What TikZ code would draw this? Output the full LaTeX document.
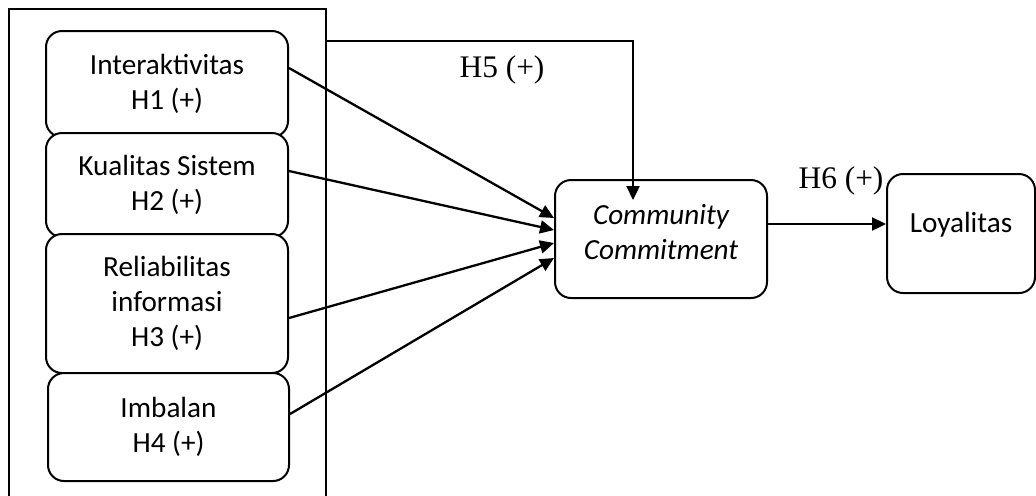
\documentclass[tikz,border=0pt]{standalone}
\usepackage{fontspec}
\setmainfont{Carlito}
\newfontfamily\tnr{Liberation Serif}
\usetikzlibrary{arrows.meta,calc}
\begin{document}
\begin{tikzpicture}[x=0.5pt,y=-0.5pt,
  box/.style={draw, line width=1pt, rounded corners=8pt, fill=white, inner sep=0pt, align=center, font=\fontsize{14.6}{17.5}\selectfont},
  txt/.style={inner sep=0pt, align=center, font=\fontsize{14.6}{17.5}\selectfont},
  conn/.style={line width=1.15pt, -{Triangle[length=7pt,width=6.5pt]}},
  hyp/.style={font=\tnr\fontsize{15.7}{18}\selectfont, inner sep=0pt}]
\useasboundingbox (0,0) rectangle (1036,495);
\clip (0,0) rectangle (1036,495);
\node[draw, line width=0.85pt, minimum width=158.5pt, minimum height=250.5pt, inner sep=0pt] (frame) at (167.5,259.5) {};
\node[box, minimum width=121pt, minimum height=53pt] (b1) at (167,84) {Interaktivitas\\H1 (+)};
\node[box, minimum width=121pt, minimum height=52pt] (b2) at (167,185) {Kualitas Sistem\\H2 (+)};
\node[box, minimum width=121pt, minimum height=69.5pt] (b3) at (167,303.5) {Reliabilitas\\informasi\\H3 (+)};
\node[box, minimum width=120.5pt, minimum height=54pt] (b4) at (168.5,427) {Imbalan\\H4 (+)};
\node[box, minimum width=106pt, minimum height=59pt] (cc) at (661,239) {};
\node[txt, font=\fontsize{14.6}{17.5}\selectfont\itshape] (cctext) at (661,232) {Community\\Commitment};
\node[box, minimum width=74pt, minimum height=59.5pt] (loy) at (961,233.5) {};
\node[txt] (loytext) at (961,225) {Loyalitas};
\draw[conn] ([yshift=8pt]b1.east) -- ([yshift=10.5pt]cc.west);
\draw[conn] ([yshift=7pt]b2.east) -- ([yshift=4.5pt]cc.west);
\draw[conn] ([yshift=-7.25pt]b3.east) -- ([yshift=-2pt]cc.west);
\draw[conn] ([yshift=6.5pt]b4.east) -- ([yshift=-9.5pt]cc.west);
\draw[conn] ([yshift=-16.5pt]frame.north east) -| ([xshift=-14pt,yshift=-10.5pt]cc.north);
\draw[conn] ([yshift=7.5pt]cc.east) -- ([yshift=7.5pt]cc.east -| loy.west);
\node[hyp] (h5) at (502,70) {H5 (+)};
\node[hyp] (h6) at (841,181) {H6 (+)};
\end{tikzpicture}
\end{document}
